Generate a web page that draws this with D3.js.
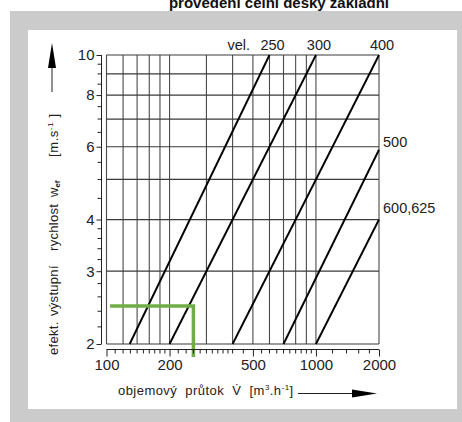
<!DOCTYPE html>
<html>
<head>
<meta charset="utf-8">
<script src="https://cdn.jsdelivr.net/npm/d3@7"></script>
<style>
  html, body { margin: 0; padding: 0; background: #fff; }
  svg { display: block; font-family: "Liberation Sans", Arial, sans-serif; }
</style>
</head>
<body>
<div id="chart"></div>
<script>
// axis values
const xTicks = [100, 200, 500, 1000, 2000];
const xGrid = [100, 120, 140, 160, 180, 200, 300, 400, 500, 600, 700, 800, 900, 1000, 2000];
const xMinor = [110, 120, 130, 140, 150, 160, 170, 180, 190,
    220, 240, 260, 280, 300, 320, 340, 360, 380, 400,
    450, 550, 600, 650, 700, 750, 800, 850, 900, 950,
    1200, 1400, 1600, 1800];
const yTicks = [2, 3, 4, 6, 8, 10];
const yGrid = [2, 3, 4, 5, 6, 7, 8, 9, 10];
const yMinor = [2.2, 2.4, 2.6, 2.8, 3.2, 3.4, 3.6, 3.8,
    4.5, 5, 5.5, 6.5, 7, 7.5, 8.5, 9, 9.5];

// sizes (vel.) and their lines: flow [m3/h] / velocity [m/s]
const sizes = ['250', '300', '400', '500', '600,625'];
const lineQ0 = [129, 200, 400, 700, 1000];
const lineV0 = [2, 2, 2, 2, 2];
const lineQ1 = [600, 1000, 2000, 2000, 2000];
const lineV1 = [10, 10, 10, 5.9, 4];

// green reading example
const greenQ = [104, 260, 260];
const greenV = [2.47, 2.47, 1.86];

const W = 462, H = 422;
const svg = d3.select('#chart').append('svg')
    .attr('width', W).attr('height', H);

// title (partly cut off at the top)
svg.append('text')
    .attr('x', 279).attr('y', 8)
    .attr('text-anchor', 'middle')
    .attr('font-size', 15).attr('font-weight', 'bold')
    .attr('fill', '#111')
    .text('provedení čelní desky základní');

// grey frame
svg.append('rect').attr('x', 10).attr('y', 11).attr('width', 460).attr('height', 420)
    .attr('fill', '#cbcbcb');
svg.append('rect').attr('x', 28).attr('y', 30).attr('width', 429).attr('height', 379)
    .attr('fill', '#fff');

const x = d3.scaleLog().domain([100, 2000]).range([106.5, 379]);
const y = d3.scaleLog().domain([2, 10]).range([344, 55]);

const g = svg.append('g');

// grid
g.append('g').selectAll('line').data(xGrid).join('line')
    .attr('x1', d => x(d)).attr('x2', d => x(d))
    .attr('y1', y(2)).attr('y2', y(10))
    .attr('stroke', '#4a4a4a').attr('stroke-width', 1.1);
g.append('g').selectAll('line').data(yGrid).join('line')
    .attr('x1', x(100)).attr('x2', x(2000))
    .attr('y1', d => y(d)).attr('y2', d => y(d))
    .attr('stroke', '#3a3a3a').attr('stroke-width', 1.2);

// size lines
const lines = sizes.map((s, i) => ({
    name: s, q0: lineQ0[i], v0: lineV0[i], q1: lineQ1[i], v1: lineV1[i]
}));
g.append('g').selectAll('line').data(lines).join('line')
    .attr('x1', d => x(d.q0)).attr('y1', d => y(d.v0))
    .attr('x2', d => x(d.q1)).attr('y2', d => y(d.v1))
    .attr('stroke', '#000').attr('stroke-width', 1.9);

// green example
const greenPts = greenQ.map((q, i) => [x(q), y(greenV[i])]);
g.append('path')
    .attr('d', d3.line()(greenPts))
    .attr('fill', 'none')
    .attr('stroke', '#6fae44').attr('stroke-width', 3.5);

// y axis (offset left of the plot)
const yAxis = g.append('g').attr('transform', 'translate(101.5,0)');
yAxis.call(d3.axisLeft(y).tickValues(yTicks).tickFormat(d3.format('d')).tickSize(5).tickPadding(2));
yAxis.append('g').selectAll('line').data(yMinor).join('line')
    .attr('x1', -4).attr('x2', 0)
    .attr('y1', d => y(d)).attr('y2', d => y(d))
    .attr('stroke', '#222');
yAxis.select('.domain').attr('d', `M0,${y(10)}V${y(2)}`);
yAxis.selectAll('text').attr('font-size', 15).attr('fill', '#222')
    .attr('font-family', '"Liberation Sans", Arial, sans-serif');
yAxis.selectAll('line, path').attr('stroke', '#222');

// x axis (offset below the plot)
const xAxis = g.append('g').attr('transform', 'translate(0,349.5)');
xAxis.call(d3.axisBottom(x).tickValues(xTicks).tickFormat(d3.format('d')).tickSize(7).tickPadding(3));
xAxis.append('g').selectAll('line').data(xMinor).join('line')
    .attr('x1', d => x(d)).attr('x2', d => x(d))
    .attr('y1', 0).attr('y2', 4)
    .attr('stroke', '#222');
xAxis.select('.domain').attr('d', `M${x(100)},0H${x(2000)}`);
xAxis.selectAll('text').attr('font-size', 15).attr('fill', '#222')
    .attr('font-family', '"Liberation Sans", Arial, sans-serif');
xAxis.selectAll('line, path').attr('stroke', '#222');

// size labels
const lbl = g.append('g').attr('font-size', 14.5).attr('fill', '#222');
lbl.append('text').attr('x', 250).attr('y', 50).attr('text-anchor', 'end').text('vel.');
lines.slice(0, 3).forEach(d => {
    lbl.append('text').attr('x', x(d.q1) + 3).attr('y', 50)
        .attr('text-anchor', 'middle').text(d.name);
});
lbl.append('text').attr('x', 383).attr('y', y(lines[3].v1) - 3).text(lines[3].name);
lbl.append('text').attr('x', 383).attr('y', y(lines[4].v1) - 7).text(lines[4].name);

// y title (rotated) with arrow
const yt = g.append('g').attr('font-size', 13).attr('fill', '#222');
const yWords = [['efekt.', 355], ['výstupní', 316], ['rychlost', 251]];
yWords.forEach(w => {
    yt.append('text').attr('transform', `translate(58,${w[1]}) rotate(-90)`)
        .attr('letter-spacing', 0.3).text(w[0]);
});
const wef = yt.append('text').attr('transform', 'translate(58,197) rotate(-90)');
wef.append('tspan').text('w');
wef.append('tspan').attr('font-size', 8).attr('dy', 2).attr('font-weight', 'bold').text('ef');
const unitY = yt.append('text').attr('transform', 'translate(58,157) rotate(-90)')
    .attr('letter-spacing', 0.6);
unitY.append('tspan').text('[m.s');
unitY.append('tspan').attr('font-size', 8).attr('dy', -5).text('-1');
unitY.append('tspan').attr('dy', 5).text(' ]');

g.append('line').attr('x1', 52).attr('x2', 52).attr('y1', 66).attr('y2', 92)
    .attr('stroke', '#222').attr('stroke-width', 1);
g.append('path').attr('d', 'M52,43L56,68L48,68Z').attr('fill', '#000');

// x title with arrow
const xt = g.append('text').attr('x', 118).attr('y', 395)
    .attr('font-size', 13).attr('fill', '#222')
    .attr('letter-spacing', 0.45)
    .attr('xml:space', 'preserve');
xt.append('tspan').text('objemový  průtok  V̇  [m');
xt.append('tspan').attr('font-size', 8).attr('dy', -5).text('3');
xt.append('tspan').attr('dy', 5).text('.h');
xt.append('tspan').attr('font-size', 8).attr('dy', -5).text('-1');
xt.append('tspan').attr('dy', 5).text(']');

g.append('line').attr('x1', 298).attr('x2', 355).attr('y1', 393.5).attr('y2', 393.5)
    .attr('stroke', '#222').attr('stroke-width', 1);
g.append('path').attr('d', 'M377,393.5L352,389.5L352,397.5Z').attr('fill', '#000');
</script>
</body>
</html>
